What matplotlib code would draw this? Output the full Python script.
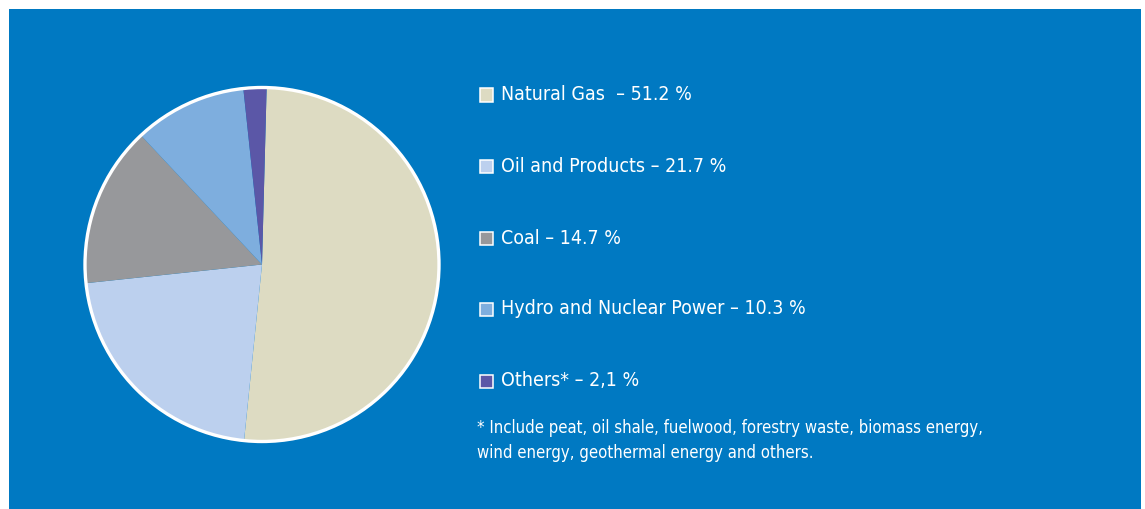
"""
Energy consumption structure pie chart with a side legend on a blue panel.
"""

import matplotlib.pyplot as plt
from matplotlib.patches import Rectangle, Circle

plt.rcParams["font.family"] = ["DejaVu Sans"]
plt.rcParams["font.stretch"] = "condensed"

# Data
sources = ["Natural Gas", "Oil and Products", "Coal",
           "Hydro and Nuclear Power", "Others"]
shares = [51.2, 21.7, 14.7, 10.3, 2.1]
share_labels = ["Natural Gas  \u2013 51.2 %", "Oil and Products \u2013 21.7 %",
                "Coal \u2013 14.7 %", "Hydro and Nuclear Power \u2013 10.3 %",
                "Others* \u2013 2,1 %"]
colours = ["#dddbc2", "#bcd0ee", "#97989b", "#7eaede", "#5b57a7"]
footnote = ("* Include peat, oil shale, fuelwood, forestry waste, biomass energy,\n"
            "wind energy, geothermal energy and others.")

W, H = 1145, 509
blue = "#0079c2"

fig = plt.figure(figsize=(W / 100, H / 100), dpi=100)
fig.patch.set_facecolor("white")

# The blue panel behind everything
fig.patches.append(Rectangle((9 / W, 0), (1141 - 9) / W, (H - 9) / H,
                             transform=fig.transFigure, facecolor=blue,
                             edgecolor="none", zorder=-5))

# Pie: centre (262, 264.5) px, radius ~177 px
cx, cy, r = 262, 264.5, 177
ax = fig.add_axes([(cx - r) / W, (H - cy - r) / H, 2 * r / W, 2 * r / H])
ax.set_zorder(1)
ax.pie(shares, colors=colours, startangle=88.5, counterclock=False,
       radius=1, wedgeprops=dict(edgecolor="none"))
ax.add_patch(Circle((0, 0), 1, fill=False, edgecolor="white", lw=2.4,
                    clip_on=False))
ax.set_xlim(-1, 1)
ax.set_ylim(-1, 1)
ax.axis("off")

# Legend rows
row_y = [95, 166, 238, 309, 381]
for label, col, y in zip(share_labels, colours, row_y):
    fig.patches.append(Rectangle((479.5 / W, (H - y - 6.5) / H), 13 / W, 13 / H,
                                 transform=fig.transFigure, facecolor=col,
                                 edgecolor="white", lw=1.1, zorder=2))
    fig.text(501 / W, (H - y) / H, label, color="white", fontsize=14,
             va="center", ha="left")

fig.text(477 / W, (H - 440.5) / H, footnote, color="white", fontsize=12,
         va="center", ha="left", linespacing=1.45)

plt.savefig("out.png", dpi=100, facecolor=fig.get_facecolor())
